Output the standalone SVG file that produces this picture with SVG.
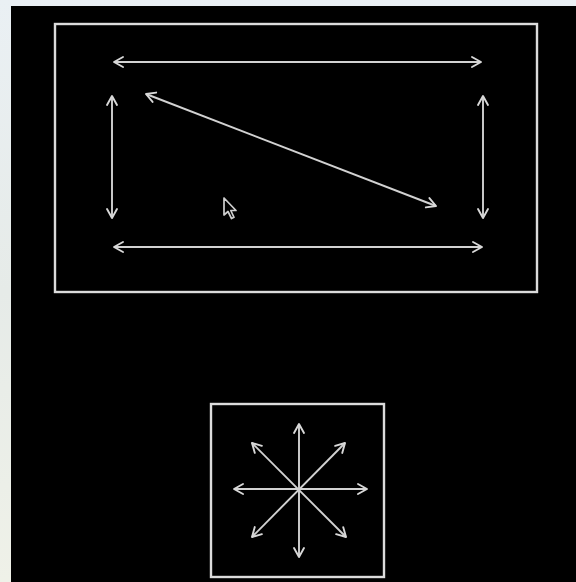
<svg xmlns="http://www.w3.org/2000/svg" width="576" height="582" viewBox="0 0 576 582">
  <defs>
    <linearGradient id="bgL" x1="0" y1="0" x2="0" y2="1">
      <stop offset="0" stop-color="#eaf0f4"/>
      <stop offset="0.5" stop-color="#e6ebe8"/>
      <stop offset="1" stop-color="#eff1e8"/>
    </linearGradient>
    <marker id="ah" viewBox="-11 -7 13 14" refX="0" refY="0" markerWidth="13" markerHeight="14" markerUnits="userSpaceOnUse" orient="auto-start-reverse">
      <path d="M-9,-5 L0,0 L-9,5" fill="none" stroke="#d8d8d8" stroke-width="1.9" stroke-linecap="round" stroke-linejoin="round"/>
    </marker>
    <style>
      .frame { fill: none; stroke: #dcdcdc; stroke-width: 2.4; }
      .arr { stroke: #d2d2d2; stroke-width: 1.9; fill: none; marker-start: url(#ah); marker-end: url(#ah); }
    </style>
  </defs>
  <rect x="0" y="0" width="576" height="582" fill="url(#bgL)"/>
  <rect x="11" y="6" width="565" height="576" fill="#000"/>

  <g id="outer-frame">
    <rect class="frame" x="55" y="24" width="482" height="268"/>
  </g>
  <g id="small-frame">
    <rect class="frame" x="211" y="404" width="173" height="173"/>
  </g>

  <g id="connectors">
    <line class="arr" x1="114" y1="62" x2="481" y2="62"/>
    <line class="arr" x1="114" y1="247" x2="482" y2="247"/>
    <line class="arr" x1="112" y1="96" x2="112" y2="218"/>
    <line class="arr" x1="483" y1="96" x2="483" y2="218"/>
    <line class="arr" x1="146" y1="94" x2="436" y2="206"/>

    <line class="arr" x1="299" y1="424" x2="299" y2="557"/>
    <line class="arr" x1="234" y1="489" x2="367" y2="489"/>
    <line class="arr" x1="252" y1="443" x2="346" y2="537"/>
    <line class="arr" x1="345" y1="443" x2="252" y2="537"/>
  </g>

  <g id="cursor">
    <path d="M224,198 L224,215 L228,211.5 L231.5,218.5 L234,217.3 L230.8,210.5 L236,210.5 Z" fill="#000" stroke="#cfcfcf" stroke-width="1.7" stroke-linejoin="round"/>
  </g>
</svg>
